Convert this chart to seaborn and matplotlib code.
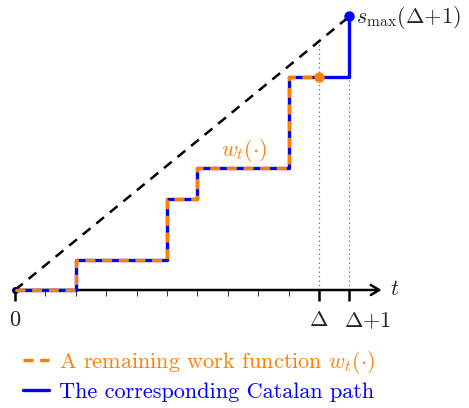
import numpy as np
import pandas as pd
import matplotlib
matplotlib.use("Agg")
import matplotlib.pyplot as plt
import seaborn as sns

# remaining work function w_t and the Catalan path (time, level)
work_t = [0, 2, 5, 6, 9, 10]
work_w = [0, 1, 3, 4, 7, 7]
path_t = [0, 2, 5, 6, 9, 11]
path_w = [0, 1, 3, 4, 7, 9]
delta = 10
s_max = 9
minor_ticks = [1, 2, 3, 4, 5, 6, 7, 8, 9]
major_ticks = [0, 10, 11]
tick_labels = ["$0$", r"$\mathit{\Delta}$", r"$\mathit{\Delta}{+}1$"]

ORANGE = "#ff8000"
BLUE = "#0000ff"

sns.set_theme(style="white")
plt.rcParams["font.family"] = ["cmr10", "DejaVu Serif"]
plt.rcParams["mathtext.fontset"] = "cm"
plt.rcParams["axes.formatter.use_mathtext"] = True

fig = plt.figure(figsize=(4.69, 4.08), dpi=100)
ax = fig.add_axes([0, 0, 1, 1])
u = 30.4
ax.set_xlim(-15 / u, (469 - 15) / u)
ax.set_ylim(-(408 - 290) / u, 290 / u)
ax.axis("off")

df_path = pd.DataFrame({"t": path_t, "w": path_w})
df_work = pd.DataFrame({"t": work_t, "w": work_w})

# dotted guides
ax.vlines(delta, 0, s_max * delta / (delta + 1), color="#555555", lw=0.8, ls=(0, (1, 3)), zorder=1)
ax.vlines(delta + 1, 0, path_w[-2], color="#555555", lw=0.8, ls=(0, (1, 3)), zorder=1)

# diagonal
ax.plot([0, delta + 1], [0, s_max], color="black", lw=1.8, ls=(0, (4, 3)), zorder=2)

# time axis
ax.annotate("", xy=(12.15, 0), xytext=(-0.08, 0),
            arrowprops=dict(arrowstyle="->,head_length=0.5,head_width=0.3", lw=1.8, color="black"), zorder=3)
ax.vlines(minor_ticks, -0.2, 0, color="#333333", lw=0.7, zorder=3)
ax.vlines(major_ticks, -0.36, 0, color="black", lw=1.8, zorder=3)
ax.plot([0], [0], "o", color="black", ms=4, zorder=3)
label_shift = [0, 0, 0.6]
for x, dx, lab in zip(major_ticks, label_shift, tick_labels):
    ax.text(x + dx, -1.0, lab, ha="center", va="center", fontsize=16, color="#222222")
ax.text(12.5, 0.03, "$t$", ha="center", va="center", fontsize=16)

sns.lineplot(data=df_path, x="t", y="w", sort=False, drawstyle="steps-post", color=BLUE,
             lw=2.4, ax=ax, zorder=4, label="The corresponding Catalan path")
sns.lineplot(data=df_work, x="t", y="w", sort=False, drawstyle="steps-post", color=ORANGE,
             lw=2.4, ls=(0, (3, 2)), ax=ax, zorder=5, label=r"A remaining work function $w_t(\cdot)$")

ax.plot([path_t[-1]], [path_w[-1]], "o", color=BLUE, ms=6.5, zorder=6)
ax.plot([work_t[-1]], [work_w[-1]], "o", color=ORANGE, ms=6.5, zorder=6)

ax.text(7.55, 4.6, r"$w_t(\cdot)$", color=ORANGE, ha="center", va="center", fontsize=16)
ax.text(11.22, s_max - 0.03, r"$s_{\max}(\mathit{\Delta}{+}1)$", ha="left", va="center", fontsize=16)

handles, labels = ax.get_legend_handles_labels()
leg = ax.legend(handles[::-1], labels[::-1], loc="upper left", bbox_to_anchor=(0.03, 0.167),
                frameon=False, fontsize=16, handlelength=1.15, handletextpad=0.45,
                labelspacing=0.28, labelcolor="linecolor", borderaxespad=0)

fig.savefig("out.png", dpi=100)
